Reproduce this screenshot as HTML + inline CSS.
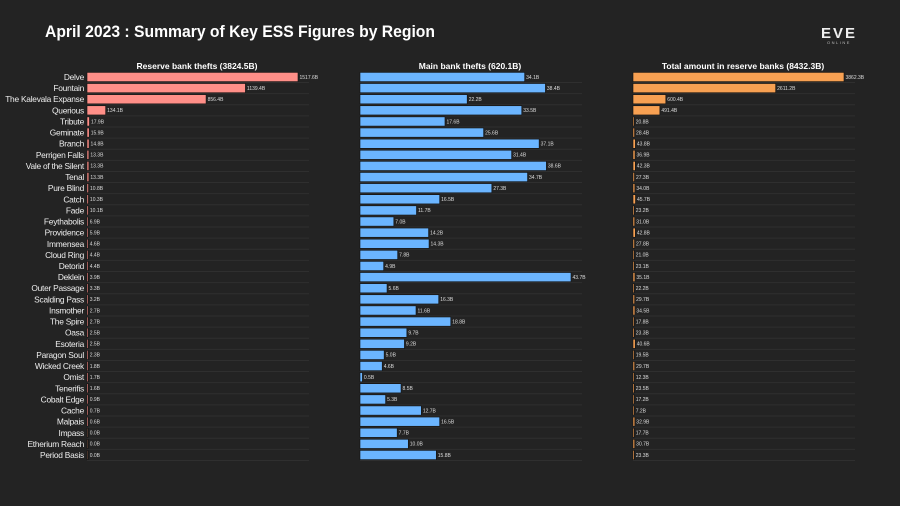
<!DOCTYPE html>
<html><head><meta charset="utf-8"><style>
html,body{margin:0;padding:0;background:#232323;}
svg{display:block;font-family:"Liberation Sans",sans-serif;}
</style></head><body>
<svg id="chart" width="900" height="506" viewBox="0 0 900 506">
<rect width="900" height="506" fill="#232323"/>
<text x="45" y="37" fill="#fff" font-size="17" font-weight="bold" textLength="390" lengthAdjust="spacingAndGlyphs">April 2023 : Summary of Key ESS Figures by Region</text>
<g>
<text x="839" y="38" fill="#eee" font-size="15" font-weight="bold" text-anchor="middle" letter-spacing="2">EVE</text>
<text x="839" y="44" fill="#bbb" font-size="4" text-anchor="middle" letter-spacing="1.5">ONLINE</text>
</g>
<g id="plots"></g>
</svg>
<script>
const regions=["Delve","Fountain","The Kalevala Expanse","Querious","Tribute","Geminate","Branch","Perrigen Falls","Vale of the Silent","Tenal","Pure Blind","Catch","Fade","Feythabolis","Providence","Immensea","Cloud Ring","Detorid","Deklein","Outer Passage","Scalding Pass","Insmother","The Spire","Oasa","Esoteria","Paragon Soul","Wicked Creek","Omist","Tenerifis","Cobalt Edge","Cache","Malpais","Impass","Etherium Reach","Period Basis"];
const reserveThefts=[1517.6,1139.4,856.4,134.1,17.9,15.9,14.8,13.3,13.3,13.3,10.8,10.3,10.1,6.9,5.9,4.6,4.4,4.4,3.9,3.3,3.2,2.7,2.7,2.5,2.5,2.3,1.8,1.7,1.6,0.9,0.7,0.6,0.0,0.0,0.0];
const mainThefts=[34.1,38.4,22.2,33.5,17.6,25.6,37.1,31.4,38.6,34.7,27.3,16.5,11.7,7.0,14.2,14.3,7.8,4.9,43.7,5.6,16.3,11.6,18.8,9.7,9.2,5.0,4.6,0.5,8.5,5.3,12.7,16.5,7.7,10.0,15.8];
const reserveTotal=[3862.3,2611.2,600.4,491.4,20.8,28.4,43.8,36.9,42.3,27.3,34.0,45.7,23.2,31.0,42.8,27.8,21.0,23.1,35.1,22.2,29.7,34.5,17.8,23.3,40.6,19.5,29.7,12.3,23.5,17.2,7.2,32.9,17.7,30.7,23.3];
const titles=["Reserve bank thefts (3824.5B)","Main bank thefts (620.1B)","Total amount in reserve banks (8432.3B)"];
const NS="http://www.w3.org/2000/svg";
const g=document.getElementById('plots');
function mk(t,a,p){const e=document.createElementNS(NS,t);for(const k in a)e.setAttribute(k,a[k]);(p||g).appendChild(e);return e;}
function yPos(i){return 77+i*((455-77)/(regions.length-1));}
const panels=[{x0:87,data:reserveThefts,color:"#ff8f88",name:"reserve-thefts"},{x0:360,data:mainThefts,color:"#6bb5ff",name:"main-thefts"},{x0:633,data:reserveTotal,color:"#f7a052",name:"reserve-total"}];
regions.forEach((r,i)=>{
  const t=mk('text',{x:84,y:yPos(i)+3,fill:'#eee','font-size':8.4,'text-anchor':'end','letter-spacing':'-0.25'});
  t.textContent=r;
  
  
});
panels.forEach((p,pi)=>{
  const max=Math.max(...p.data);
  const xs=v=>p.x0+v/max*211;
  const pg=mk('g',{});
  
  
  const tt=mk('text',{x:p.x0+110,y:69,fill:'#fff','font-size':8.5,'font-weight':'bold','text-anchor':'middle'},pg);
  tt.textContent=titles[pi];
  
  
  p.data.forEach((v,i)=>{
    const y=yPos(i);
    mk('line',{x1:p.x0,x2:p.x0+222,y1:y+5.5,y2:y+5.5,stroke:'#2f2f2f','stroke-width':1},pg);
    const w=Math.max(xs(v)-p.x0,0);
    const b=mk('rect',{x:p.x0,y:y-4.6,width:Math.max(w,1.2),height:9.2,fill:v>0?p.color:'#6b4a3a',stroke:'#111','stroke-width':0.6},pg);
    
    
    const lt=mk('text',{x:p.x0+Math.max(w,1.2)+1.5,y:y+1.8,fill:'#ddd','font-size':5},pg);
    lt.textContent=v.toFixed(1)+'B';
    
    
  });
});
</script>
</body></html>
